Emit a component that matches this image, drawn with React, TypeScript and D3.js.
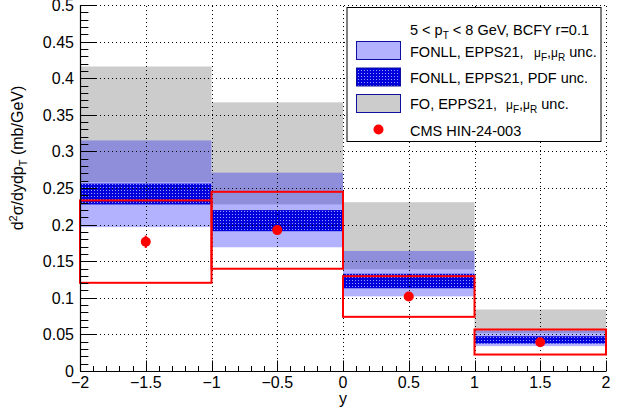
import React from "react";
import * as d3 from "d3";

const binEdges = [-2, -1, 0, 1, 2];
const foLow = [0.258, 0.2275, 0.139, 0.052];
const foHigh = [0.416, 0.367, 0.2306, 0.084];
const scaleLow = [0.1965, 0.169, 0.102, 0.034];
const scaleHigh = [0.315, 0.271, 0.164, 0.0553];
const pdfLow = [0.2275, 0.191, 0.113, 0.0375];
const pdfHigh = [0.256, 0.2198, 0.1328, 0.0475];
const cmsValue = [0.1765, 0.1925, 0.1018, 0.0393];
const cmsStat = [0.0085, 0.004, 0.004, 0.003];
const cmsSystLow = [0.1205, 0.1397, 0.074, 0.0225];
const cmsSystHigh = [0.233, 0.2448, 0.1295, 0.0567];
const xTickLabels = ["−2", "−1.5", "−1", "−0.5", "0", "0.5", "1", "1.5", "2"];
const yTickLabels = ["0", "0.05", "0.1", "0.15", "0.2", "0.25", "0.3", "0.35", "0.4", "0.45", "0.5"];

const W = 624;
const H = 411;
const FONT = "'Liberation Sans', Arial, Helvetica, sans-serif";

export default function App() {
  const x = d3.scaleLinear().domain([-2, 2]).range([80, 606]);
  const y = d3.scaleLinear().domain([0, 0.5]).range([371, 5]);
  const bins = d3.range(binEdges.length - 1);

  const xMajor = d3.range(0, 9).map((i) => -2 + i * 0.5);
  const xMinor = d3.range(0, 41).map((i) => -2 + i * 0.1);
  const yMajor = d3.range(0, 11).map((i) => i * 0.05);
  const yMinor = d3.range(0, 51).map((i) => i * 0.01);

  const rect = (b: number, lo: number[], hi: number[]) => ({
    x: x(binEdges[b]),
    y: y(hi[b]),
    width: x(binEdges[b + 1]) - x(binEdges[b]),
    height: y(lo[b]) - y(hi[b]),
  });

  const muText = (xs: number, yb: number) => (
    <text x={xs} y={yb} fontSize={14.5} fontFamily={FONT}>
      <tspan fontSize={12}>μ</tspan>
      <tspan fontSize={10} dy={4}>F</tspan>
      <tspan fontSize={14.5} dy={-4}>,</tspan>
      <tspan fontSize={12}>μ</tspan>
      <tspan fontSize={10} dy={4}>R</tspan>
      <tspan fontSize={14.5} dy={-4}> unc.</tspan>
    </text>
  );

  return (
    <svg
      width={W}
      height={H}
      style={{ position: "absolute", left: 0, top: 0, background: "#fff" }}
    >
      <defs>
        <pattern id="hatch" width={3} height={3} patternUnits="userSpaceOnUse">
          <rect x={0} y={0} width={3} height={3} fill="#0000dd" />
          <rect x={1} y={1} width={1} height={1} fill="#9a9aff" />
        </pattern>
      </defs>
      <rect width={W} height={H} fill="#fff" />

      {bins.map((b) => (
        <rect key={"fo" + b} {...rect(b, foLow, foHigh)} fill="#cccccc" />
      ))}
      {bins.map((b) => (
        <rect key={"sc" + b} {...rect(b, scaleLow, scaleHigh)} fill="#0000ff" fillOpacity={0.3} />
      ))}
      {bins.map((b) => (
        <rect key={"pdf" + b} {...rect(b, pdfLow, pdfHigh)} fill="url(#hatch)" />
      ))}

      {xMajor.slice(1).map((v) => (
        <line
          key={"gx" + v}
          x1={Math.round(x(v)) + 0.5}
          x2={Math.round(x(v)) + 0.5}
          y1={y(0)}
          y2={y(0.5)}
          stroke="#000"
          strokeWidth={1}
          strokeDasharray="1,3"
        />
      ))}
      {yMajor.slice(1).map((v) => (
        <line
          key={"gy" + v}
          x1={x(-2)}
          x2={x(2)}
          y1={Math.round(y(v)) + 0.5}
          y2={Math.round(y(v)) + 0.5}
          stroke="#000"
          strokeWidth={1}
          strokeDasharray="1,3"
        />
      ))}

      {bins.map((b) => (
        <rect
          key={"sys" + b}
          {...rect(b, cmsSystLow, cmsSystHigh)}
          fill="none"
          stroke="#ff0000"
          strokeWidth={2}
        />
      ))}
      {bins.map((b) => {
        const cx = x((binEdges[b] + binEdges[b + 1]) / 2);
        return (
          <g key={"pt" + b}>
            <line
              x1={cx}
              x2={cx}
              y1={y(cmsValue[b] - cmsStat[b])}
              y2={y(cmsValue[b] + cmsStat[b])}
              stroke="#ff0000"
              strokeWidth={2}
            />
            <circle cx={cx} cy={y(cmsValue[b])} r={5} fill="#ff0000" />
          </g>
        );
      })}

      <line x1={80.5} x2={80.5} y1={y(0)} y2={y(0.5)} stroke="#000" strokeWidth={1.2} />
      <line x1={80} x2={606} y1={371.5} y2={371.5} stroke="#000" strokeWidth={1.2} />
      {yMinor.map((v, i) => (
        <line
          key={"yt" + i}
          x1={80.5}
          x2={80.5 + (i % 5 === 0 ? 15.8 : 7.9)}
          y1={Math.round(y(v)) + 0.5}
          y2={Math.round(y(v)) + 0.5}
          stroke="#000"
          strokeWidth={1}
        />
      ))}
      {xMinor.map((v, i) => (
        <line
          key={"xt" + i}
          x1={Math.round(x(v)) + 0.5}
          x2={Math.round(x(v)) + 0.5}
          y1={371.5}
          y2={371.5 - (i % 5 === 0 ? 11 : 5.5)}
          stroke="#000"
          strokeWidth={1}
        />
      ))}
      {yMajor.map((v, i) => (
        <text
          key={"yl" + i}
          x={74}
          y={y(v) + 6}
          textAnchor="end"
          fontSize={16}
          fontFamily={FONT}
        >
          {yTickLabels[i]}
        </text>
      ))}
      {xMajor.map((v, i) => (
        <text
          key={"xl" + i}
          x={x(v)}
          y={388}
          textAnchor="middle"
          fontSize={16}
          fontFamily={FONT}
        >
          {xTickLabels[i]}
        </text>
      ))}
      <text x={x(0)} y={404} textAnchor="middle" fontSize={16} fontFamily={FONT}>
        y
      </text>
      <text
        transform="translate(23,158) rotate(-90)"
        textAnchor="middle"
        fontSize={16}
        fontFamily={FONT}
      >
        <tspan>d</tspan>
        <tspan fontSize={11} dy={-6}>2</tspan>
        <tspan dy={6}>σ/dydp</tspan>
        <tspan fontSize={11} dy={4}>T</tspan>
        <tspan dy={-4}> (mb/GeV)</tspan>
      </text>

      <rect x={347} y={7.5} width={254} height={134} fill="#fff" stroke="#000" strokeWidth={1} />
      <text x={410} y={35} fontSize={14.5} fontFamily={FONT}>
        <tspan>5 &lt; p</tspan>
        <tspan fontSize={10} dy={4}>T</tspan>
        <tspan dy={-4}> &lt; 8 GeV, BCFY r=0.1</tspan>
      </text>
      <rect x={356.5} y={41.5} width={44} height={18} fill="#b2b2ff" stroke="#1010a0" strokeWidth={1} />
      <text x={410} y={56.7} fontSize={14.5} fontFamily={FONT}>FONLL, EPPS21,</text>
      {muText(534, 56.7)}
      <rect x={356.5} y={68} width={44} height={18} fill="url(#hatch)" stroke="#1010a0" strokeWidth={1} />
      <text x={410} y={83.3} fontSize={14.5} fontFamily={FONT}>FONLL, EPPS21, PDF unc.</text>
      <rect x={356.5} y={94.5} width={44} height={18} fill="#cccccc" stroke="#1010a0" strokeWidth={1} />
      <text x={410} y={109.3} fontSize={14.5} fontFamily={FONT}>FO, EPPS21,</text>
      {muText(506, 109.3)}
      <circle cx={378.5} cy={129.5} r={5} fill="#ff0000" />
      <text x={410} y={136} fontSize={14.5} fontFamily={FONT}>CMS HIN-24-003</text>
    </svg>
  );
}
